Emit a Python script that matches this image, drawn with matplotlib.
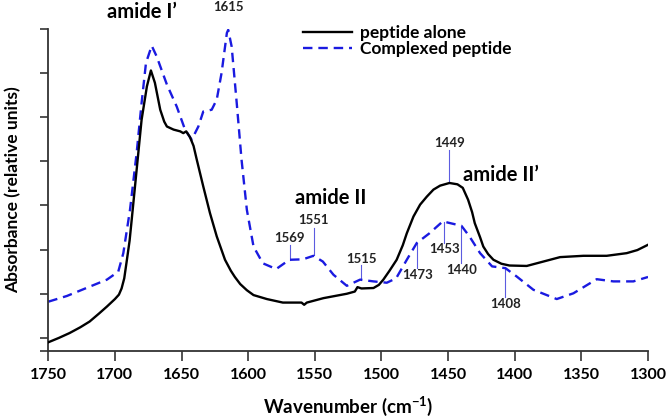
import matplotlib
matplotlib.use('Agg')
import matplotlib.pyplot as plt
import numpy as np

plt.rcParams['font.family'] = ['Lato', 'DejaVu Sans']
plt.rcParams['font.weight'] = 'bold'
plt.rcParams['axes.labelweight'] = 'bold'
plt.rcParams['mathtext.fontset'] = 'custom'
plt.rcParams['mathtext.bf'] = 'Lato:bold'
plt.rcParams['mathtext.rm'] = 'Lato:bold'
plt.rcParams['mathtext.default'] = 'bf'

# peptide alone (black, solid)
alone_wn = [1750, 1742, 1734, 1726, 1719, 1712, 1706, 1700, 1697, 1695, 1693, 1691, 1689,
            1687.4, 1683.7, 1680, 1676, 1673, 1670, 1666, 1663, 1661, 1656, 1651, 1648.7,
            1646.5, 1643.7, 1641, 1638.6, 1633.7, 1628.7, 1623.6, 1617.4, 1613, 1610, 1606,
            1601, 1596, 1586, 1574, 1560, 1558, 1556, 1543.6, 1526, 1520, 1518, 1515, 1506,
            1502, 1498.6, 1494, 1488.6, 1484, 1481, 1476, 1471, 1466, 1461, 1456, 1449,
            1443, 1439, 1435, 1432, 1430, 1426, 1423.6, 1420, 1416, 1410, 1404, 1391, 1381,
            1366, 1348.5, 1331, 1316, 1308, 1300]
alone_abs = [-0.10, 0.00, 0.11, 0.24, 0.37, 0.55, 0.71, 0.88, 0.98, 1.12, 1.35, 1.77, 2.20,
             2.68, 3.81, 4.94, 5.70, 6.06, 5.78, 5.17, 4.90, 4.79, 4.72, 4.68, 4.64,
             4.68, 4.55, 4.35, 4.04, 3.43, 2.83, 2.30, 1.77, 1.52, 1.38, 1.22,
             1.08, 0.97, 0.88, 0.80, 0.80, 0.75, 0.80, 0.90, 1.00, 1.05, 1.15, 1.12, 1.13,
             1.20, 1.32, 1.52, 1.77, 2.10, 2.37, 2.75, 3.02, 3.20, 3.36, 3.45, 3.51,
             3.48, 3.40, 3.13, 2.85, 2.60, 2.28, 2.07, 1.90, 1.77, 1.68, 1.64, 1.63, 1.71,
             1.83, 1.86, 1.86, 1.92, 1.99, 2.11]

# complexed peptide (blue, dashed)
complex_wn = [1750, 1736, 1719, 1706, 1697.5, 1693.7, 1688.7, 1683.7, 1680, 1676.7, 1672.4,
              1668.7, 1661, 1653.6, 1647.4, 1642.4, 1637.4, 1633.7, 1627.4, 1623.6, 1620,
              1616, 1615, 1612.4, 1608.6, 1605, 1601, 1596, 1589, 1579, 1571, 1569, 1559,
              1551, 1544, 1536, 1526, 1516, 1506, 1496, 1489, 1481, 1473.5, 1464, 1454,
              1440, 1434, 1426, 1417, 1407, 1398.5, 1386, 1368.5, 1356, 1338.5, 1326, 1311,
              1300]
complex_abs = [0.82, 0.95, 1.16, 1.32, 1.50, 1.92, 2.90, 4.19, 5.32, 6.23, 6.62,
               6.38, 5.74, 5.24, 4.72, 4.49, 4.79, 5.13, 5.17, 5.40, 6.00,
               6.91, 6.98, 6.60, 5.32, 4.04, 2.90, 2.07, 1.69, 1.56, 1.73, 1.77, 1.78,
               1.86, 1.73, 1.43, 1.18, 1.32, 1.28, 1.25, 1.35, 1.77, 2.15, 2.37, 2.64,
               2.54, 2.30, 1.92, 1.62, 1.58, 1.39, 1.09, 0.88, 1.01, 1.33, 1.28, 1.28,
               1.38]

# peak markers: label, text height, line top, line bottom
peak_labels = ['1615', '1569', '1551', '1515', '1449', '1473', '1453', '1440', '1408']
peak_wn = [1615, 1569, 1551, 1515, 1449, 1473, 1453, 1440, 1407]
peak_text_y = [7.50, 2.27, 2.68, 1.79, 4.42, 1.43, 2.02, 1.54, 0.77]
peak_line_top = [7.35, 2.11, 2.49, 1.66, 4.26, 2.15, 2.63, 2.52, 1.61]
peak_line_bot = [6.98, 1.77, 1.88, 1.32, 3.51, 1.59, 2.15, 1.70, 0.93]

band_names = ['amide I\u2019', 'amide II', 'amide II\u2019']
band_wn = [1680, 1538, 1410]
band_y = [7.39, 3.17, 3.70]

fig = plt.figure(figsize=(6.66, 4.2), dpi=100)
ax = fig.add_axes([0.0725, 0.164, 0.9005, 0.767])

ax.plot(alone_wn, alone_abs, color='black', lw=1.7, label='peptide alone', zorder=3)
ax.plot(complex_wn, complex_abs, color='#1a1ae0', lw=1.7, dashes=(4, 2.5),
        label='Complexed peptide', zorder=2)

for lab, wn, ty, lt, lb in zip(peak_labels, peak_wn, peak_text_y, peak_line_top, peak_line_bot):
    ax.plot([wn, wn], [lb, lt], color='#5c5ce0', lw=0.8, zorder=1)
    ax.text(wn, ty, lab, ha='center', va='center', fontsize=9.5, color='#222222',
            fontweight='bold', clip_on=False)

for name, wn, y in zip(band_names, band_wn, band_y):
    ax.text(wn, y, name, ha='center', va='center', fontsize=14.5, color='black',
            fontweight='bold', clip_on=False)

ax.set_xlim(1750, 1300)
ax.set_ylim(-0.3, 7)
ax.set_xticks(np.arange(1750, 1299, -50))
ax.set_yticks(list(np.arange(0, 8)) + [-0.3])
ax.set_yticklabels([])
ax.tick_params(axis='y', direction='out', length=6, width=1.2, color='#333333')
ax.tick_params(axis='x', direction='out', length=7, width=1.2, color='#333333',
               labelsize=11.5, pad=5)
for lbl in ax.get_xticklabels():
    lbl.set_fontweight('bold')
for s in ['top', 'right']:
    ax.spines[s].set_visible(False)
for s in ['left', 'bottom']:
    ax.spines[s].set_linewidth(1.3)
    ax.spines[s].set_color('#333333')

ax.set_xlabel('Wavenumber (cm$^{-1}$)', fontsize=13.5, fontweight='bold', labelpad=9)
ax.set_ylabel('Absorbance (relative units)', fontsize=12.5, fontweight='bold', labelpad=10)

fig.legend(loc='upper left', bbox_to_anchor=(303 / 666, 1 - 25 / 420), frameon=False,
           handlelength=2.8, labelspacing=0.0, handletextpad=0.5,
           borderpad=0, borderaxespad=0, prop={'weight': 'bold', 'size': 12.5})

fig.savefig('out.png', dpi=100)
